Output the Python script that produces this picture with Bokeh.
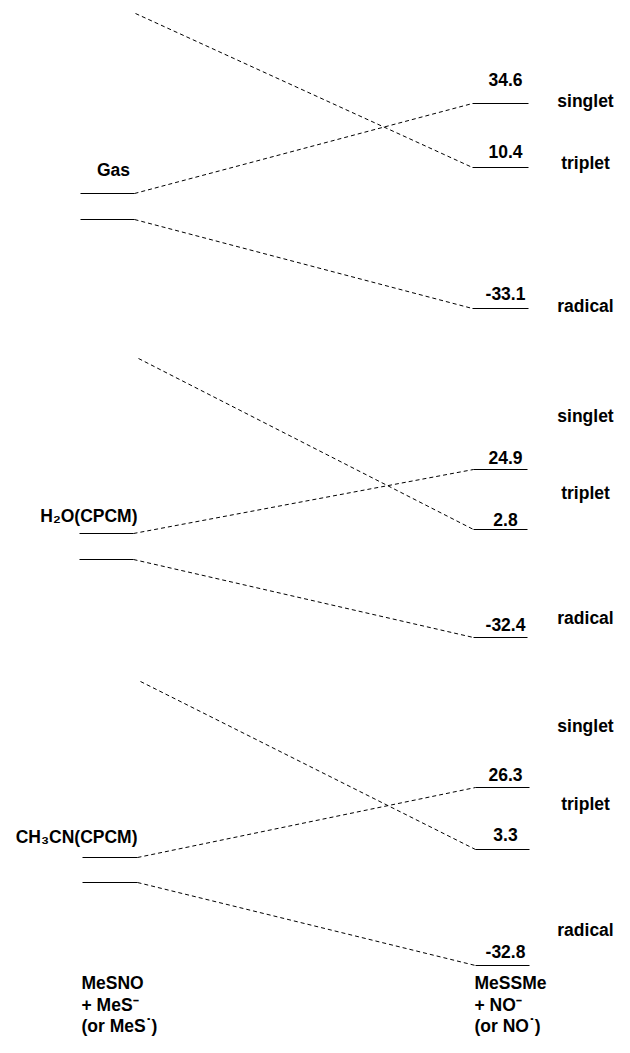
from bokeh.plotting import figure
from bokeh.models import Range1d, ColumnDataSource
from bokeh.core.properties import value
from bokeh.embed import file_html
from bokeh.resources import INLINE

# ---------------- data ----------------
media = ["Gas", "H\u2082O(CPCM)", "CH\u2083CN(CPCM)"]
states = ["singlet", "triplet", "radical"]
singlet_dE = [34.6, 24.9, 26.3]
triplet_dE = [10.4, 2.8, 3.3]
radical_dE = [-33.1, -32.4, -32.8]
reactant_lines = ["MeSNO", "+ MeS\u207b", "(or MeS\u02d9)"]
product_lines = ["MeSSMe", "+ NO\u207b", "(or NO\u02d9)"]

# ---------------- schematic layout (diagram units, y grows downward) ----------------
left_x0 = [80, 79, 82]
left_x1 = [134, 133, 137]
right_x0 = [472, 473, 475]
right_x1 = [528, 527, 529]
left_upper_y = [193, 533, 857]
left_lower_y = [219, 559, 882]
trip_origin_x = [135, 138, 140]
trip_origin_y = [13, 358, 681]
singlet_y = [103, 469, 787]
triplet_y = [167, 529, 849]
radical_y = [308, 637, 965]

TXT_SHIFT = 6  # compensates the renderer's baseline placement
singlet_lab_y = [85, 463, 780]
triplet_lab_y = [157, 525, 840]
radical_lab_y = [299, 630, 957]
state_lab_y = {"singlet": [106, 421, 731], "triplet": [168, 498, 809], "radical": [311, 623, 935]}
media_lab_x = [113, 137, 137]
media_lab_y = [175, 521, 842]
media_align = ["center", "right", "right"]
bottom_y = [988, 1010, 1031]

FONT = value("Liberation Sans")
FS = "17.5px"


def up(ys):
    return [yy - TXT_SHIFT for yy in ys]


p = figure(width=614, height=1037, output_backend="svg", toolbar_location=None,
           x_range=Range1d(0, 614), y_range=Range1d(1037, 0), min_border=0)
p.axis.visible = False
p.grid.visible = False
p.outline_line_color = None
p.background_fill_color = "white"
p.border_fill_color = "white"

# energy levels
lev = ColumnDataSource(dict(
    x0=left_x0 + left_x0 + right_x0 * 3,
    x1=left_x1 + left_x1 + right_x1 * 3,
    y=left_upper_y + left_lower_y + singlet_y + triplet_y + radical_y,
))
p.segment(x0="x0", y0="y", x1="x1", y1="y", source=lev, line_color="black", line_width=1)

# correlation lines
con = ColumnDataSource(dict(
    x0=left_x1 + left_x1 + trip_origin_x,
    y0=left_upper_y + left_lower_y + trip_origin_y,
    x1=right_x0 * 3,
    y1=singlet_y + radical_y + triplet_y,
))
p.segment(x0="x0", y0="y0", x1="x1", y1="y1", source=con, line_color="black",
          line_width=1, line_dash="4 3")

# energy values
vals = singlet_dE + triplet_dE + radical_dE
ens = ColumnDataSource(dict(
    x=[505] * 9,
    y=up(singlet_lab_y + triplet_lab_y + radical_lab_y),
    t=[f"{v:.1f}" for v in vals],
))
p.text(x="x", y="y", text="t", source=ens, text_font=FONT, text_font_size=FS,
       text_font_style="bold", text_align="center", text_baseline="alphabetic", text_color="black")

# state names
sx, sy, st = [], [], []
for s in states:
    for yy in state_lab_y[s]:
        sx.append(585); sy.append(yy - TXT_SHIFT); st.append(s)
p.text(x=sx, y=sy, text=st, text_font=FONT, text_font_size=FS, text_font_style="bold",
       text_align="center", text_baseline="alphabetic", text_color="black")

# media names
for m, mx, my, al in zip(media, media_lab_x, up(media_lab_y), media_align):
    p.text(x=[mx], y=[my], text=[m], text_font=FONT, text_font_size=FS, text_font_style="bold",
           text_align=al, text_baseline="alphabetic", text_color="black")

# species labels
p.text(x=[81] * 3, y=up(bottom_y), text=reactant_lines, text_font=FONT, text_font_size=FS,
       text_font_style="bold", text_align="left", text_baseline="alphabetic", text_color="black")
p.text(x=[474] * 3, y=up(bottom_y), text=product_lines, text_font=FONT, text_font_size=FS,
       text_font_style="bold", text_align="left", text_baseline="alphabetic", text_color="black")

open("out.html", "w").write(file_html(p, INLINE))
